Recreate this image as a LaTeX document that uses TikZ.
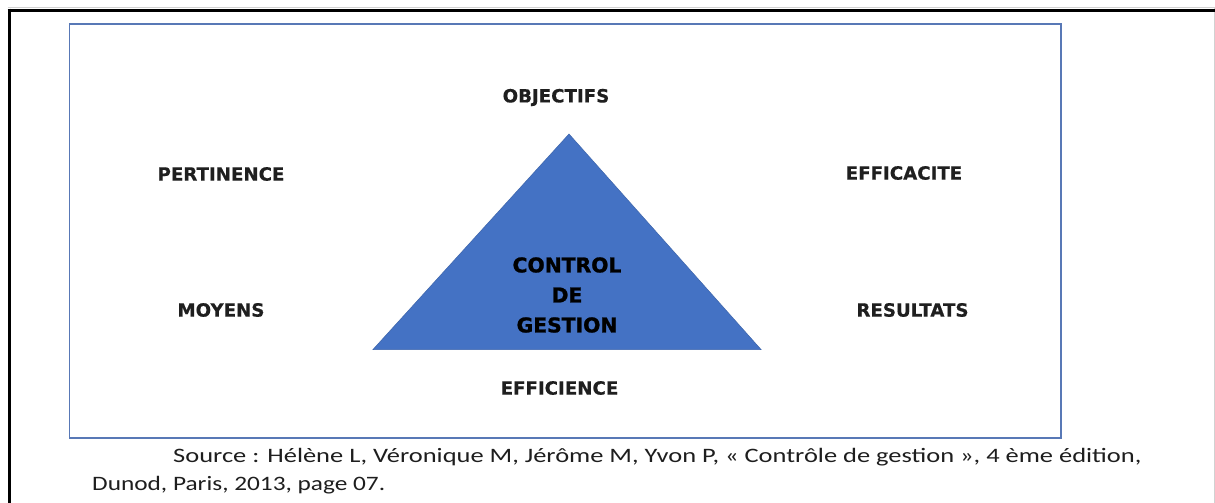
\documentclass[tikz,border=0pt]{standalone}
\usepackage{fontspec}
\setmainfont{Carlito}
\newfontfamily\labelfont[BoldFeatures={FakeBold=0.5}]{DejaVu Sans}
\newfontfamily\corefont[BoldFeatures={FakeBold=1.2}]{DejaVu Sans}
\newfontfamily\capfont[FakeStretch=1.29]{Carlito}
\newfontfamily\capfontb[FakeStretch=1.235]{Carlito}
\definecolor{frameblue}{RGB}{88,120,182}
\definecolor{triblue}{RGB}{68,114,196}
\definecolor{triedge}{RGB}{60,100,170}
\definecolor{captiongray}{RGB}{30,30,30}
\tikzset{
  pagerule/.style={line width=3.8pt, black},
  faintrule/.style={line width=0.8pt, black!18},
  frame/.style={draw=frameblue, line width=1.8pt},
  pillar/.style={fill=triblue, draw=triedge, line width=0.5pt},
  keyword/.style={font=\labelfont\bfseries\fontsize{18.2}{20}\selectfont, text=black!88, inner sep=0pt, anchor=center},
  core/.style={font=\corefont\bfseries\fontsize{20.3}{30}\selectfont, align=center, inner sep=0pt},
  caption/.style={font=\capfont\fontsize{20.5}{28}\selectfont, text=captiongray, inner sep=0pt, anchor=base west},
  captionb/.style={caption, font=\capfontb\fontsize{20.5}{28}\selectfont}
}
\begin{document}
\begin{tikzpicture}[x=1pt,y=-1pt]
  \useasboundingbox (0,0) rectangle (1215,503);
  \fill[white] (0,0) rectangle (1215,503);

  % page rules
  \draw[faintrule] (8,7.5) -- (1215,7.5);
  \draw[faintrule] (1214.2,8) -- (1214.2,503);
  \draw[pagerule] (7.6,10.6) -- (1215,10.6);
  \draw[pagerule] (9.5,8.7) -- (9.5,503);

  % outer frame
  \draw[frame] (69.5,24.3) rectangle (1061.3,438);

  % triangle
  \coordinate (apex) at (569,134);
  \coordinate (bl) at (373,349.5);
  \coordinate (br) at (761,349.5);
  \draw[pillar] (apex) -- (br) -- (bl) -- cycle;
  \node[core] (centre) at (567,295) {CONTROL\\DE\\GESTION};

  % labels
  \node[keyword] (obj) at (556,97.5) {OBJECTIFS};
  \node[keyword] (pert) at (221,174) {PERTINENCE};
  \node[keyword] (effic) at (904,173) {EFFICACITE};
  \node[keyword] (moy) at (221,310) {MOYENS};
  \node[keyword] (res) at (912.5,310) {RESULTATS};
  \node[keyword] (effi) at (559.5,388) {EFFICIENCE};

  % source
  \node[caption] (src1) at (173,462) {Source : Hélène L, Véronique M, Jérôme M, Yvon P, « Contrôle de gestion », 4 ème édition,};
  \node[captionb] (src2) at (92,490) {Dunod, Paris, 2013, page 07.};
\end{tikzpicture}
\end{document}
